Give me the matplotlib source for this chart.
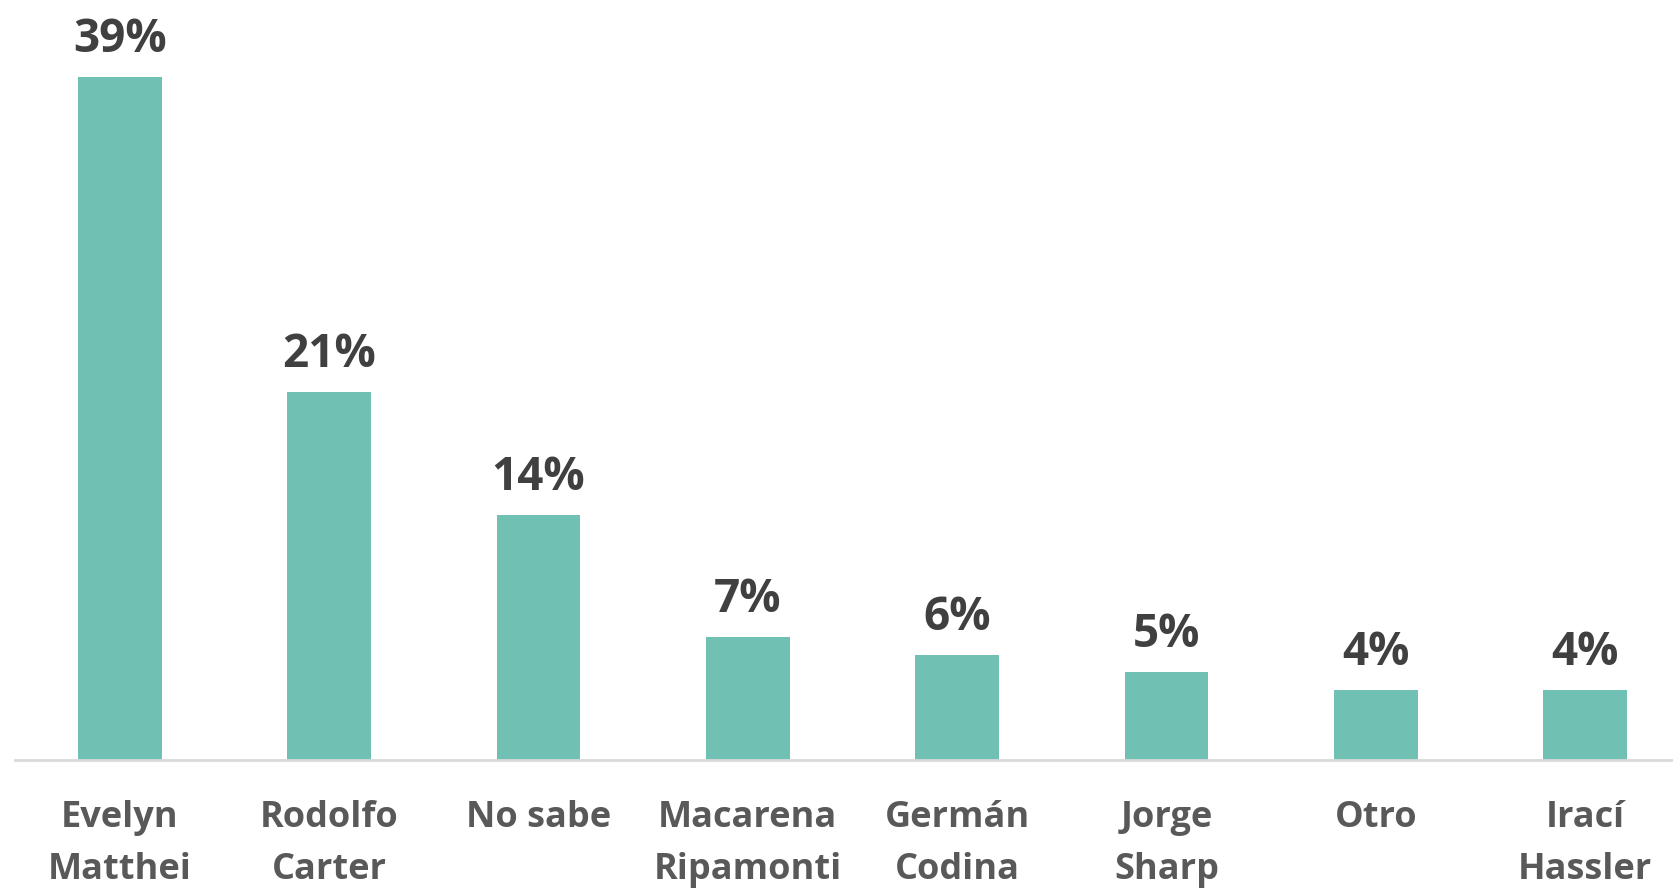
import numpy as np
import matplotlib.pyplot as plt

# datos
candidatos = ["Evelyn\nMatthei", "Rodolfo\nCarter", "No sabe", "Macarena\nRipamonti",
              "Germán\nCodina", "Jorge\nSharp", "Otro", "Irací\nHassler"]
porcentajes = [39, 21, 14, 7, 6, 5, 4, 4]

plt.rcParams['font.family'] = ['Open Sans', 'DejaVu Sans']

fig = plt.figure(figsize=(16.73, 8.9), dpi=100)
# el eje sigue más allá del borde derecho (imagen recortada)
ax = fig.add_axes([15 / 1673, 1 - 760 / 890, 1675 / 1673, 760 / 890])

x = np.arange(len(candidatos))
ax.bar(x, porcentajes, width=0.4, color="#70C1B3")

for xi, v in zip(x, porcentajes):
    ax.annotate(f"{v}%", (xi, v), xytext=(0, 18), textcoords="offset points",
                ha="center", va="baseline", fontsize=33, fontweight="bold",
                color="#404040")

ax.set_xlim(-0.5, len(candidatos) - 0.5)
ax.set_ylim(0, 43.4)
ax.set_xticks(x)
ax.set_xticklabels(candidatos, fontsize=26, fontweight="bold", color="#595959",
                   linespacing=1.58)
ax.tick_params(axis="x", length=0, pad=29)
ax.set_yticks([])
for s in ["top", "right", "left"]:
    ax.spines[s].set_visible(False)
ax.spines["bottom"].set_color("#D9D9D9")
ax.spines["bottom"].set_linewidth(2)

fig.savefig("out.png", dpi=100)
